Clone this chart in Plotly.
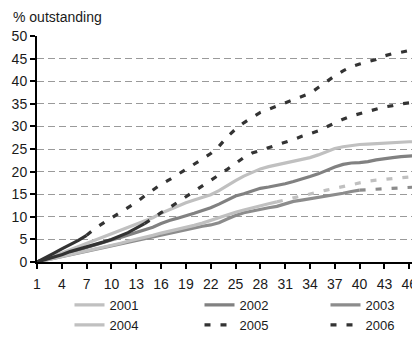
import plotly.graph_objects as go

# ---- data ----
months = list(range(1, 48))
tick_months = list(range(1, 47, 3))
y_ticks = list(range(0, 51, 5))

s2001 = [0, 0.6, 1.3, 2.0, 2.7, 3.4, 4.1, 4.8, 5.5, 6.2, 6.9, 7.6, 8.3, 9.0, 9.8, 10.8,
         11.6, 12.4, 13.1, 13.7, 14.3, 14.9, 15.8, 17.0, 18.0, 19.0, 19.8, 20.6, 21.1, 21.5,
         21.8, 22.2, 22.6, 23.1, 23.7, 24.4, 25.1, 25.5, 25.8, 26.0, 26.1, 26.2, 26.4, 26.5,
         26.5, 26.6, 26.6]
s2002 = [0, 0.5, 1.0, 1.6, 2.1, 2.6, 3.2, 3.8, 4.3, 4.9, 5.4, 6.0, 6.5, 7.1, 7.7, 8.5,
         9.2, 9.7, 10.2, 10.8, 11.4, 12.0, 12.8, 13.7, 14.6, 15.1, 15.7, 16.3, 16.6, 16.9,
         17.3, 17.8, 18.3, 18.9, 19.5, 20.3, 21.0, 21.6, 21.9, 22.0, 22.2, 22.6, 22.9, 23.1,
         23.3, 23.5, 23.6]
s2003 = [0, 0.4, 0.8, 1.2, 1.6, 2.0, 2.4, 2.8, 3.2, 3.6, 4.0, 4.4, 4.8, 5.1, 5.5, 6.0,
         6.4, 6.8, 7.2, 7.5, 7.9, 8.2, 8.7, 9.5, 10.3, 10.9, 11.3, 11.7, 12.0, 12.3,
         12.9, 13.4, 13.7, 14.0, 14.3, 14.6, 14.8, 15.2, 15.6, 15.9, 16.0, 16.1, 16.3, 16.4,
         16.5, 16.6, 16.6]
s2004 = [0, 0.4, 0.8, 1.3, 1.7, 2.1, 2.5, 2.9, 3.3, 3.7, 4.1, 4.6, 5.0, 5.5, 5.9, 6.4,
         6.8, 7.2, 7.6, 8.1, 8.6, 9.2, 9.9, 10.5, 11.0, 11.5, 12.0, 12.5, 12.9, 13.3,
         13.8, 14.2, 14.6, 15.1, 15.5, 15.9, 16.3, 16.8, 17.2, 17.6, 17.9, 18.1, 18.3, 18.5,
         18.7, 18.8, 18.9]
s2005 = [0, 0.9, 1.9, 2.9, 3.8, 4.8, 5.9, 7.4, 8.6, 9.7, 10.8, 12.0, 13.2, 14.6, 16.0, 17.2,
         18.2, 19.3, 20.5, 21.7, 22.8, 24.0, 25.6, 27.7, 29.4, 30.8, 32.0, 33.1, 33.8, 34.5,
         35.2, 36.0, 36.6, 37.3, 38.6, 40.0, 41.2, 42.3, 43.2, 43.8, 44.3, 44.8, 45.6, 46.1,
         46.4, 46.8, 47.2]
s2006 = [0, 0.5, 1.0, 1.6, 2.3, 2.8, 3.3, 3.9, 4.4, 5.0, 5.7, 6.5, 7.5, 8.5, 9.8, 10.9,
         12.0, 13.2, 14.4, 15.7, 16.9, 18.1, 19.2, 20.5, 21.8, 23.1, 24.1, 24.7, 25.2, 25.8,
         26.4, 27.1, 27.8, 28.4, 29.0, 29.9, 30.8, 31.6, 32.3, 32.8, 33.2, 33.8, 34.3, 34.6,
         35.0, 35.2, 35.4]

# month at which each series switches line style
switch_2003 = 40
switch_2004 = 30
switch_2005 = 7
switch_2006 = 14

# ---- styles ----
LIGHT = "#c0c0c0"
MID2 = "#818181"
MID3 = "#8c8c8c"
DARK = "#333333"
W = 3.2
DASH = "6px,10px"
FONT = "Liberation Sans, Arial, sans-serif"


def upto(vals, m):
    return months[:m], vals[:m]


def fromm(vals, m):
    return months[m - 1:], vals[m - 1:]


fig = go.Figure()

fig.add_trace(go.Scatter(x=months, y=s2001, mode="lines", name="2001", legend="legend",
                         line=dict(color=LIGHT, width=W)))
fig.add_trace(go.Scatter(x=months, y=s2002, mode="lines", name="2002", legend="legend2",
                         line=dict(color=MID2, width=W)))
x, y = upto(s2003, switch_2003)
fig.add_trace(go.Scatter(x=x, y=y, mode="lines", name="2003", legend="legend3",
                         line=dict(color=MID3, width=W)))
x, y = upto(s2004, switch_2004)
fig.add_trace(go.Scatter(x=x, y=y, mode="lines", name="2004", legend="legend",
                         line=dict(color=LIGHT, width=W)))
x, y = fromm(s2005, switch_2005)
fig.add_trace(go.Scatter(x=x, y=y, mode="lines", name="2005", legend="legend2",
                         line=dict(color=DARK, width=W, dash=DASH)))
x, y = fromm(s2006, switch_2006)
fig.add_trace(go.Scatter(x=x, y=y, mode="lines", name="2006", legend="legend3",
                         line=dict(color=DARK, width=W, dash=DASH)))

# continuation segments (no legend)
x, y = fromm(s2003, switch_2003)
fig.add_trace(go.Scatter(x=x, y=y, mode="lines", showlegend=False,
                         line=dict(color=MID3, width=W, dash=DASH)))
x, y = fromm(s2004, switch_2004)
fig.add_trace(go.Scatter(x=x, y=y, mode="lines", showlegend=False,
                         line=dict(color=LIGHT, width=W, dash=DASH)))
x, y = upto(s2005, switch_2005)
fig.add_trace(go.Scatter(x=x, y=y, mode="lines", showlegend=False,
                         line=dict(color=DARK, width=W)))
x, y = upto(s2006, switch_2006)
fig.add_trace(go.Scatter(x=x, y=y, mode="lines", showlegend=False,
                         line=dict(color=DARK, width=W)))

# The page body has an 8px default margin, so the figure is sized to fit the window.
PAGE_OFF = 8
FIG_W = 420 - PAGE_OFF
FIG_H = 337 - PAGE_OFF
PLOT_L = 37 - PAGE_OFF
PLOT_T = 36 - PAGE_OFF
PLOT_B = FIG_H - (262 - PAGE_OFF)
PLOT_W = FIG_W - PLOT_L
PLOT_H = FIG_H - PLOT_T - PLOT_B
LEG_Y = -28 / PLOT_H


def leg(page_x):
    return dict(orientation="v", x=(page_x - 37) / PLOT_W, xanchor="left", y=LEG_Y,
                yanchor="top", font=dict(size=13, family=FONT, color="#1a1a1a"),
                bgcolor="rgba(0,0,0,0)", traceorder="normal", tracegroupgap=0)


fig.update_layout(
    width=FIG_W, height=FIG_H,
    margin=dict(l=PLOT_L, r=0, t=PLOT_T, b=PLOT_B, autoexpand=False),
    paper_bgcolor="white", plot_bgcolor="white",
    font=dict(family=FONT, size=14, color="#1a1a1a"),
    showlegend=True,
    legend=leg(69.5), legend2=leg(199.5), legend3=leg(325.5),
    xaxis=dict(range=[1, 47.3], tickmode="array", tickvals=tick_months,
               ticktext=[str(v) for v in tick_months],
               showgrid=False, zeroline=False, showline=True, linecolor="black",
               linewidth=2, ticks="outside", ticklen=5, tickwidth=1.5, tickcolor="black",
               ticklabelstandoff=3, tickfont=dict(size=14)),
    yaxis=dict(range=[0, 50], tickmode="array", tickvals=y_ticks,
               showgrid=True, gridcolor="#9a9a9a", gridwidth=1, griddash="7px,4px",
               zeroline=False, showline=True, linecolor="black", linewidth=2,
               ticks="outside", ticklen=5, tickwidth=1.5, tickcolor="black",
               tickfont=dict(size=14)),
    annotations=[dict(text="% outstanding", xref="paper", yref="paper",
                      x=-25 / PLOT_W, y=1 + PLOT_T / PLOT_H, xanchor="left", yanchor="top",
                      borderpad=0, showarrow=False,
                      font=dict(size=14, family=FONT, color="#1a1a1a"))],
)

fig.write_html("out.html")
